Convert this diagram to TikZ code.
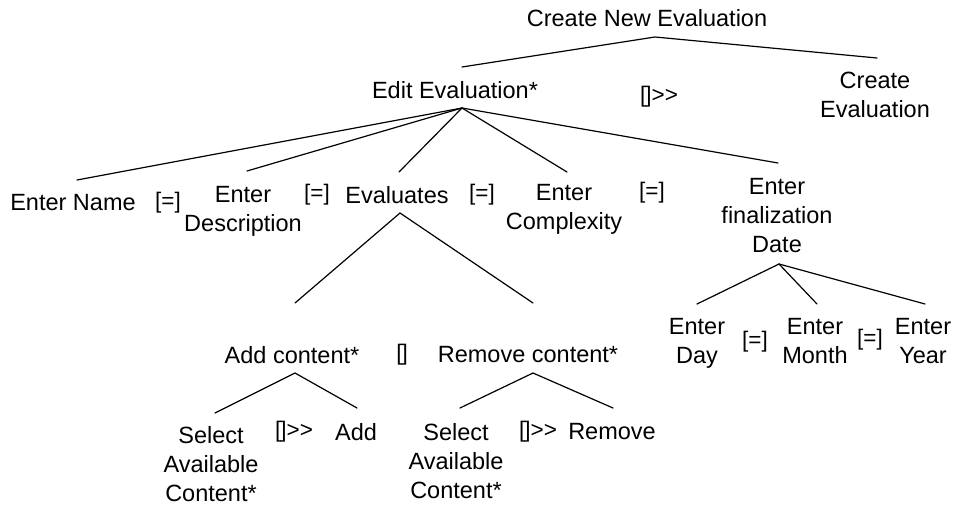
\documentclass[tikz,border=0pt]{standalone}
\usepackage{fontspec}
\setmainfont{Liberation Sans}
\begin{document}
\begin{tikzpicture}[x=1pt,y=-1pt,
  lbl/.style={inner sep=0pt, align=center, anchor=north, font=\fontsize{23.5}{29}\selectfont},
  op/.style={inner sep=0pt, anchor=center, font=\fontsize{22.5}{25}\selectfont},
  link/.style={line width=1.2pt, line cap=round}]
\useasboundingbox (0,0) rectangle (955,506);
\fill[white] (0,0) rectangle (955,506);
% level 0/1
\node[lbl] (root) at (647,9) {Create New Evaluation};
\node[lbl] (edit) at (455,81) {Edit Evaluation*};
\node[op]  (opA)  at (659,97) {[\kern-1pt]{>}{>}};
\node[lbl] (cre)  at (875,72) {Create\\Evaluation};
% level 2
\node[lbl] (name)  at (73,194)  {Enter Name};
\node[op]  (eq1)   at (168,203) {[=]};
\node[lbl] (desc)  at (243,186) {Enter\\Description};
\node[op]  (eq2)   at (317,195) {[=]};
\node[lbl] (evals) at (397,186) {Evaluates};
\node[op]  (eq3)   at (482,195) {[=]};
\node[lbl] (cplx)  at (564,184) {Enter\\Complexity};
\node[op]  (eq4)   at (652,193) {[=]};
\node[lbl] (date)  at (777,178) {Enter\\finalization\\Date};
% level 3
\node[lbl] (add)   at (292,346) {Add content*};
\node[op]  (opB)   at (402,355) {[\kern-1pt]};
\node[lbl] (rem)   at (528,346) {Remove content*};
\node[lbl] (day)   at (697,318) {Enter\\Day};
\node[op]  (eq5)   at (755,342) {[=]};
\node[lbl] (month) at (815,318) {Enter\\Month};
\node[op]  (eq6)   at (870,340) {[=]};
\node[lbl] (year)  at (923,318) {Enter\\Year};
% level 4
\node[lbl] (sel1)  at (211,426) {Select\\Available\\Content*};
\node[op]  (opC)   at (294,432) {[\kern-1pt]{>}{>}};
\node[lbl] (addL)  at (356,423) {Add};
\node[lbl] (sel2)  at (456,423) {Select\\Available\\Content*};
\node[op]  (opD)   at (538,432) {[\kern-1pt]{>}{>}};
\node[lbl] (remL)  at (612,423) {Remove};
% junctions and line ends
\coordinate (rootJ) at (655,37);
\coordinate (editT) at (462,67);
\coordinate (creT)  at (877,58);
\coordinate (editJ) at (462,108);
\coordinate (nameT) at (77,180);
\coordinate (descT) at (247,171);
\coordinate (evalsT) at (399,172);
\coordinate (cplxT) at (567,172);
\coordinate (dateT) at (778,163);
\coordinate (evalsJ) at (400,213);
\coordinate (addT) at (295,303);
\coordinate (remT) at (533,303);
\coordinate (addJ) at (295,373);
\coordinate (sel1T) at (215,413);
\coordinate (addLT) at (357,408);
\coordinate (remJ) at (533,373);
\coordinate (sel2T) at (460,408);
\coordinate (remLT) at (613,408);
\coordinate (dateJ) at (779,264);
\coordinate (dayT) at (697,304);
\coordinate (monthT) at (817,304);
\coordinate (yearT) at (925,304);
% connectors
\draw[link] (editT) -- (rootJ) -- (creT);
\foreach \c in {nameT,descT,evalsT,cplxT,dateT} \draw[link] (editJ) -- (\c);
\draw[link] (addT) -- (evalsJ) -- (remT);
\draw[link] (sel1T) -- (addJ) -- (addLT);
\draw[link] (sel2T) -- (remJ) -- (remLT);
\foreach \c in {dayT,monthT,yearT} \draw[link] (dateJ) -- (\c);
\end{tikzpicture}
\end{document}
